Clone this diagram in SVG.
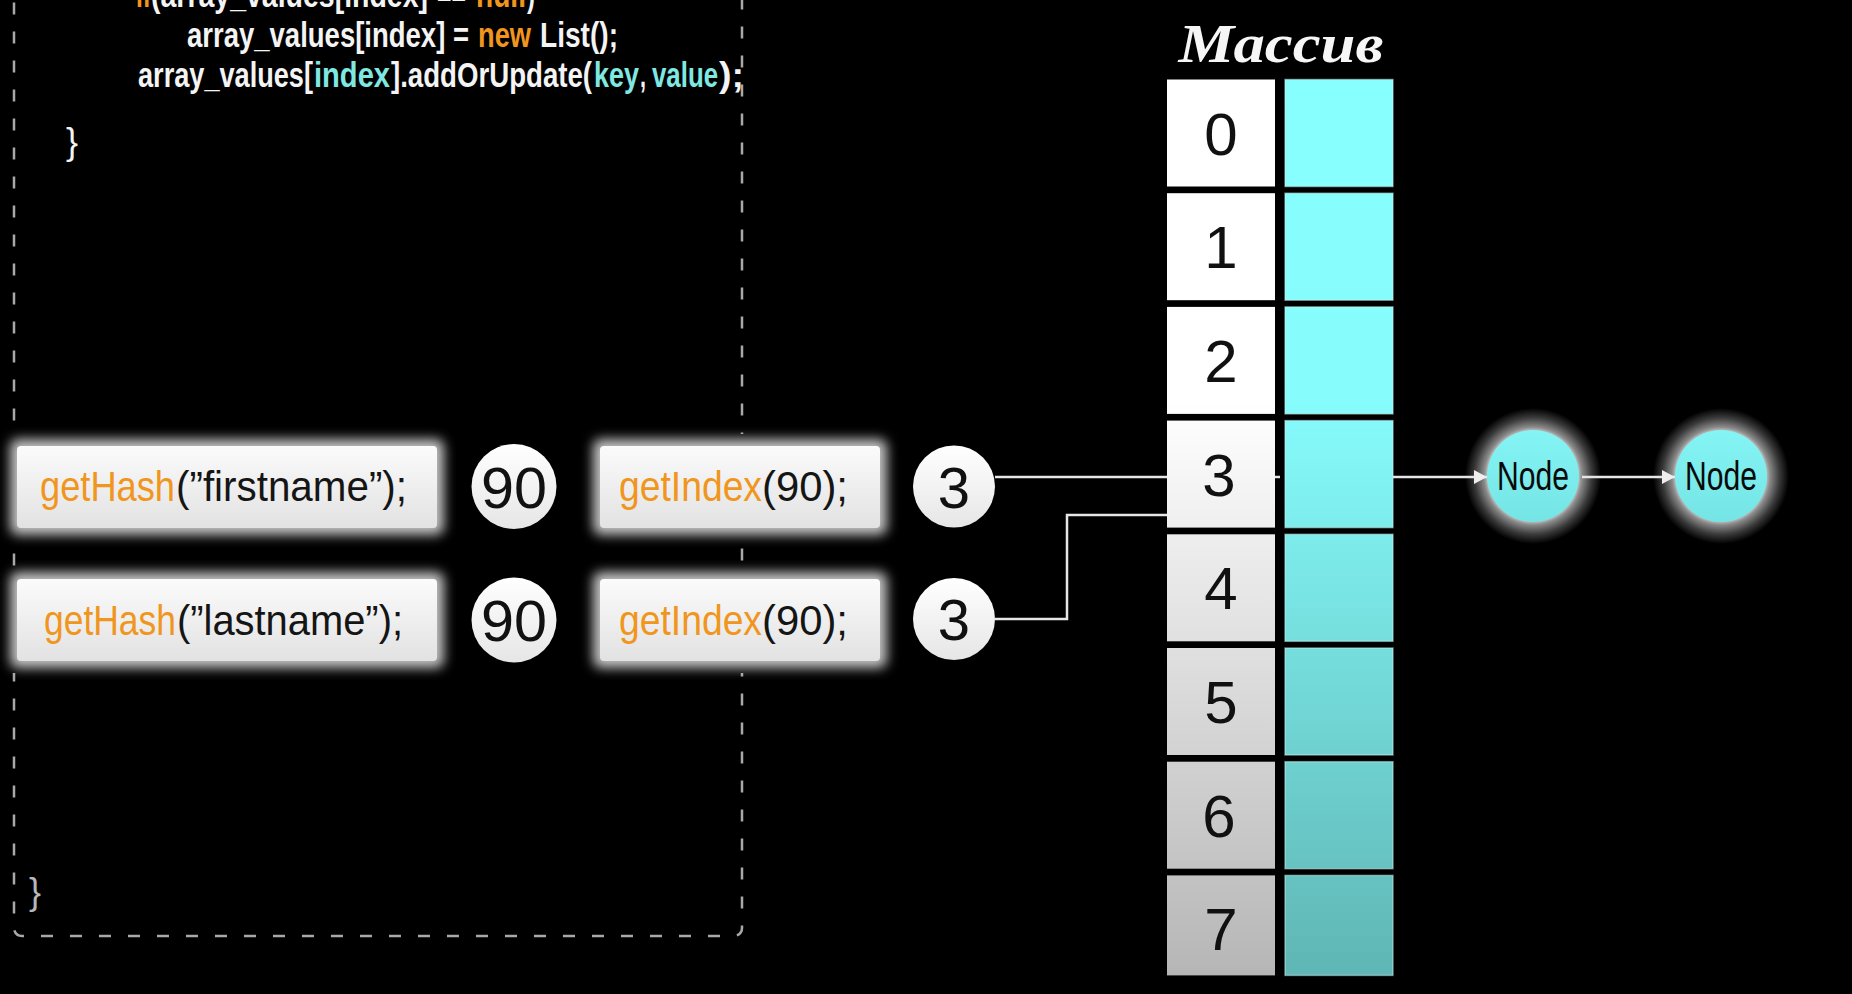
<svg xmlns="http://www.w3.org/2000/svg" width="1852" height="994" viewBox="0 0 1852 994">
<defs>
<style>
.code{font-family:"Liberation Sans",Arial,sans-serif;font-size:35px;font-weight:bold;}
.brace{font-family:"Liberation Sans",Arial,sans-serif;font-size:36px;}
.w{fill:#f4f4f4}.o{fill:#f0961e}.c{fill:#80e8e2}
.fn{font-family:"Liberation Sans",Arial,sans-serif;font-size:43px;}
.k{fill:#151515}
.num{font-family:"Liberation Sans",Arial,sans-serif;font-size:58px;fill:#111;text-anchor:middle}
.idx{font-family:"Liberation Sans",Arial,sans-serif;font-size:60px;fill:#111;text-anchor:middle}
.node{font-family:"Liberation Sans",Arial,sans-serif;font-size:40px;fill:#0a0a0a;text-anchor:middle}
.lc{fill:url(#gL)}
.rc{fill:url(#gR);stroke:#c8f4f4;stroke-opacity:0.5;stroke-width:1.5}
.conn{fill:none;stroke:#e6e6e6;stroke-width:2.5}
.box{fill:url(#gBox)}
.halo{fill:#c4c4c4;filter:url(#blur)}
.cover{fill:#000}
.circ{fill:url(#gCirc)}
</style>
<linearGradient id="gL" gradientUnits="userSpaceOnUse" x1="0" y1="79" x2="0" y2="975">
<stop offset="0" stop-color="#ffffff"/><stop offset="0.36" stop-color="#ffffff"/><stop offset="1" stop-color="#b6b6b6"/>
</linearGradient>
<linearGradient id="gR" gradientUnits="userSpaceOnUse" x1="0" y1="79" x2="0" y2="975">
<stop offset="0" stop-color="#88ffff"/><stop offset="0.36" stop-color="#86fcfc"/><stop offset="1" stop-color="#5fb6b4"/>
</linearGradient>
<linearGradient id="gBox" x1="0" y1="0" x2="0" y2="1">
<stop offset="0" stop-color="#fbfbfb"/><stop offset="1" stop-color="#e2e2e2"/>
</linearGradient>
<linearGradient id="gCirc" x1="0" y1="0" x2="0" y2="1">
<stop offset="0" stop-color="#ffffff"/><stop offset="1" stop-color="#e6e6e6"/>
</linearGradient>
<linearGradient id="gNode" x1="0" y1="0" x2="0" y2="1">
<stop offset="0" stop-color="#84f4f4"/><stop offset="1" stop-color="#74e4e4"/>
</linearGradient>
<radialGradient id="gHalo">
<stop offset="0" stop-color="#c8c8c8"/><stop offset="0.66" stop-color="#c8c8c8"/><stop offset="0.72" stop-color="#8a8a8a"/><stop offset="0.86" stop-color="#3a3a3a"/><stop offset="1" stop-color="#000"/>
</radialGradient>
<filter id="blur" x="-20%" y="-40%" width="140%" height="180%"><feGaussianBlur stdDeviation="6"/></filter>
<marker id="arr" markerUnits="userSpaceOnUse" markerWidth="13" markerHeight="14" refX="13" refY="7" orient="auto">
<path d="M0,0 L13,7 L0,14 z" fill="#eeeeee"/>
</marker>
</defs>
<rect width="1852" height="994" fill="#000"/>

<g id="code-frame">
<rect x="14" y="-40" width="728" height="976" rx="8" fill="none" stroke="#a8a8a8" stroke-width="2.5" stroke-dasharray="12 17"/>
</g>

<g id="code" class="code">
<text x="136" y="7" class="o" textLength="15" lengthAdjust="spacingAndGlyphs">if</text>
<text x="151" y="7" class="w" textLength="277" lengthAdjust="spacingAndGlyphs">(array_values[index]</text>
<text x="437" y="7" class="w" textLength="29" lengthAdjust="spacingAndGlyphs">==</text>
<text x="476" y="7" class="o" textLength="50" lengthAdjust="spacingAndGlyphs">null</text>
<text x="527" y="7" class="w" textLength="8" lengthAdjust="spacingAndGlyphs">)</text>

<text x="187" y="47" class="w" textLength="282" lengthAdjust="spacingAndGlyphs">array_values[index] =</text>
<text x="478" y="47" class="o" textLength="53" lengthAdjust="spacingAndGlyphs">new</text>
<text x="540" y="47" class="w" textLength="78" lengthAdjust="spacingAndGlyphs">List();</text>

<text x="138" y="87" class="w" textLength="175" lengthAdjust="spacingAndGlyphs">array_values[</text>
<text x="314" y="87" class="c" textLength="76" lengthAdjust="spacingAndGlyphs">index</text>
<text x="391" y="87" class="w" textLength="201" lengthAdjust="spacingAndGlyphs">].addOrUpdate(</text>
<text x="594" y="87" class="c" textLength="45" lengthAdjust="spacingAndGlyphs">key</text>
<text x="640" y="87" class="w" textLength="6" lengthAdjust="spacingAndGlyphs">,</text>
<text x="652" y="87" class="c" textLength="66" lengthAdjust="spacingAndGlyphs">value</text>
<text x="719" y="87" class="w" textLength="25" lengthAdjust="spacingAndGlyphs">);</text>
</g>
<g id="braces" class="brace">
<text x="66" y="154" class="w">}</text>
<text x="29" y="904" fill="#b8b8b8">}</text>
</g>

<g id="hash-firstname">
<rect x="4" y="434" width="446" height="106" class="cover"/>
<rect x="10" y="439" width="434" height="96" rx="8" class="halo"/>
<rect x="17" y="446" width="420" height="82" rx="4" class="box"/>
<text x="40" y="501" class="fn o" textLength="135" lengthAdjust="spacingAndGlyphs">getHash</text>
<text x="176" y="501" class="fn k" textLength="231" lengthAdjust="spacingAndGlyphs">(”firstname”);</text>
</g>
<g id="hash-lastname">
<rect x="4" y="567" width="446" height="106" class="cover"/>
<rect x="10" y="572" width="434" height="96" rx="8" class="halo"/>
<rect x="17" y="579" width="420" height="82" rx="4" class="box"/>
<text x="44" y="635" class="fn o" textLength="132" lengthAdjust="spacingAndGlyphs">getHash</text>
<text x="177" y="635" class="fn k" textLength="226" lengthAdjust="spacingAndGlyphs">(”lastname”);</text>
</g>

<g id="hash-value-1"><circle cx="514" cy="486.5" r="42.5" class="circ"/><text x="514" y="507.5" class="num" textLength="66" lengthAdjust="spacingAndGlyphs">90</text></g>
<g id="hash-value-2"><circle cx="514" cy="620" r="42.5" class="circ"/><text x="514" y="641" class="num" textLength="66" lengthAdjust="spacingAndGlyphs">90</text></g>

<g id="index-1">
<rect x="587" y="434" width="306" height="106" class="cover"/>
<rect x="593" y="439" width="294" height="96" rx="8" class="halo"/>
<rect x="600" y="446" width="280" height="82" rx="4" class="box"/>
<text x="619" y="501" class="fn o" textLength="143" lengthAdjust="spacingAndGlyphs">getIndex</text>
<text x="762" y="501" class="fn k" textLength="86" lengthAdjust="spacingAndGlyphs">(90);</text>
</g>
<g id="index-2">
<rect x="587" y="567" width="306" height="106" class="cover"/>
<rect x="593" y="572" width="294" height="96" rx="8" class="halo"/>
<rect x="600" y="579" width="280" height="82" rx="4" class="box"/>
<text x="619" y="635" class="fn o" textLength="143" lengthAdjust="spacingAndGlyphs">getIndex</text>
<text x="762" y="635" class="fn k" textLength="86" lengthAdjust="spacingAndGlyphs">(90);</text>
</g>

<g id="index-value-1"><circle cx="954" cy="486.5" r="41" class="circ"/><text x="954" y="507.5" class="num">3</text></g>
<g id="index-value-2"><circle cx="954" cy="619" r="41" class="circ"/><text x="954" y="640" class="num">3</text></g>

<g id="array">
<text x="1281" y="62" font-family="'Liberation Serif','DejaVu Serif',serif" font-style="italic" font-weight="bold" font-size="54" fill="#f6f6f6" text-anchor="middle" textLength="205" lengthAdjust="spacingAndGlyphs">Массив</text>
<g id="row-0"><rect x="1167" y="79.5" width="108" height="107" class="lc"/><rect x="1285" y="79.5" width="108" height="107" class="rc"/><text x="1221" y="154.5" class="idx">0</text></g>
<g id="row-1"><rect x="1167" y="193.2" width="108" height="107" class="lc"/><rect x="1285" y="193.2" width="108" height="107" class="rc"/><text x="1221" y="268.2" class="idx">1</text></g>
<g id="row-2"><rect x="1167" y="306.9" width="108" height="107" class="lc"/><rect x="1285" y="306.9" width="108" height="107" class="rc"/><text x="1221" y="381.9" class="idx">2</text></g>
<g id="row-3"><rect x="1167" y="420.6" width="108" height="107" class="lc"/><rect x="1285" y="420.6" width="108" height="107" class="rc"/><text x="1219" y="495.6" class="idx">3</text></g>
<g id="row-4"><rect x="1167" y="534.3" width="108" height="107" class="lc"/><rect x="1285" y="534.3" width="108" height="107" class="rc"/><text x="1221" y="609.3" class="idx">4</text></g>
<g id="row-5"><rect x="1167" y="648" width="108" height="107" class="lc"/><rect x="1285" y="648" width="108" height="107" class="rc"/><text x="1221" y="723" class="idx">5</text></g>
<g id="row-6"><rect x="1167" y="761.7" width="108" height="107" class="lc"/><rect x="1285" y="761.7" width="108" height="107" class="rc"/><text x="1219" y="836.7" class="idx">6</text></g>
<g id="row-7"><rect x="1167" y="875.4" width="108" height="100" class="lc"/><rect x="1285" y="875.4" width="108" height="100" class="rc"/><text x="1221" y="950.4" class="idx">7</text></g>
</g>

<g id="node-1">
<circle cx="1533" cy="476" r="68" fill="url(#gHalo)"/>
<circle cx="1533" cy="476" r="46" fill="url(#gNode)"/>
<text x="1533" y="490" class="node" textLength="72" lengthAdjust="spacingAndGlyphs">Node</text>
</g>
<g id="node-2">
<circle cx="1721" cy="476" r="68" fill="url(#gHalo)"/>
<circle cx="1721" cy="476" r="46" fill="url(#gNode)"/>
<text x="1721" y="490" class="node" textLength="72" lengthAdjust="spacingAndGlyphs">Node</text>
</g>

<g id="connectors">
<path class="conn" d="M995,477 H1167"/>
<path class="conn" d="M1275,477 H1280"/>
<path class="conn" d="M995,619 H1067 V515 H1167"/>
<path class="conn" d="M1393,477 H1487" marker-end="url(#arr)"/>
<path class="conn" d="M1582,477 H1675" marker-end="url(#arr)"/>
</g>
</svg>
